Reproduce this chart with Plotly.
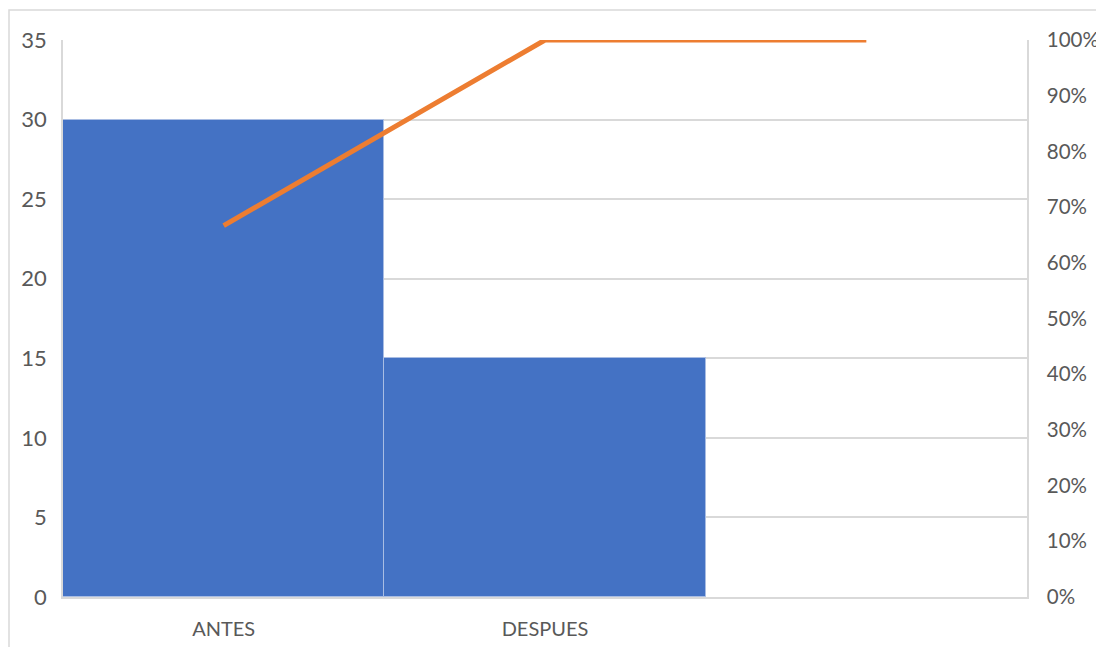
import plotly.graph_objects as go

categories = ["ANTES", "DESPUES", ""]
counts = [30, 15, 0]
cumulative_pct = [0.6667, 1.0, 1.0]
left_ticks = [0, 5, 10, 15, 20, 25, 30, 35]
right_ticks = [0, 0.1, 0.2, 0.3, 0.4, 0.5, 0.6, 0.7, 0.8, 0.9, 1.0]

x = list(range(len(categories)))
FONT = "Lato, Open Sans, sans-serif"
TXT = "#595959"
GRID = "#D9D9D9"

fig = go.Figure()
fig.add_trace(go.Bar(
    x=x, y=counts,
    marker=dict(color="#4472C4",
                line=dict(color="#A9BDE3", width=[1 if v > 0 else 0 for v in counts])),
    width=1.0, yaxis="y", hoverinfo="skip", showlegend=False))
fig.add_trace(go.Scatter(
    x=x, y=cumulative_pct, mode="lines", yaxis="y2",
    line=dict(color="#ED7D31", width=5), hoverinfo="skip", showlegend=False))

fig.update_layout(
    width=1096, height=639,
    margin=dict(l=55, r=77, t=32, b=50, autoexpand=False),
    paper_bgcolor="white", plot_bgcolor="white",
    bargap=0,
    font=dict(family=FONT, color=TXT),
    xaxis=dict(range=[-0.5, 2.5], tickvals=x, ticktext=categories, automargin=False,
               showgrid=False, showline=True, linecolor=GRID, linewidth=1.5,
               ticks="", tickfont=dict(size=20), ticklabelstandoff=13, zeroline=False),
    yaxis=dict(range=[0, 35], tickvals=left_ticks, showgrid=True, gridcolor=GRID,
               gridwidth=1.5, showline=True, linecolor=GRID, linewidth=1.5, automargin=False,
               ticks="", tickfont=dict(size=22), ticklabelstandoff=10, zeroline=False),
    yaxis2=dict(range=[0, 1], tickvals=right_ticks, tickformat=".0%", overlaying="y",
                side="right", showgrid=False, showline=True, linecolor=GRID, automargin=False,
                linewidth=1.5, ticks="", tickfont=dict(size=20.5), ticklabelstandoff=14,
                zeroline=False),
    shapes=[dict(type="rect", xref="paper", yref="paper",
                 x0=-54/964, x1=1.2, y0=-0.5, y1=1 + 30/557,
                 line=dict(color="#D9D9D9", width=1.5), layer="below")],
)

fig.write_html("out.html")
